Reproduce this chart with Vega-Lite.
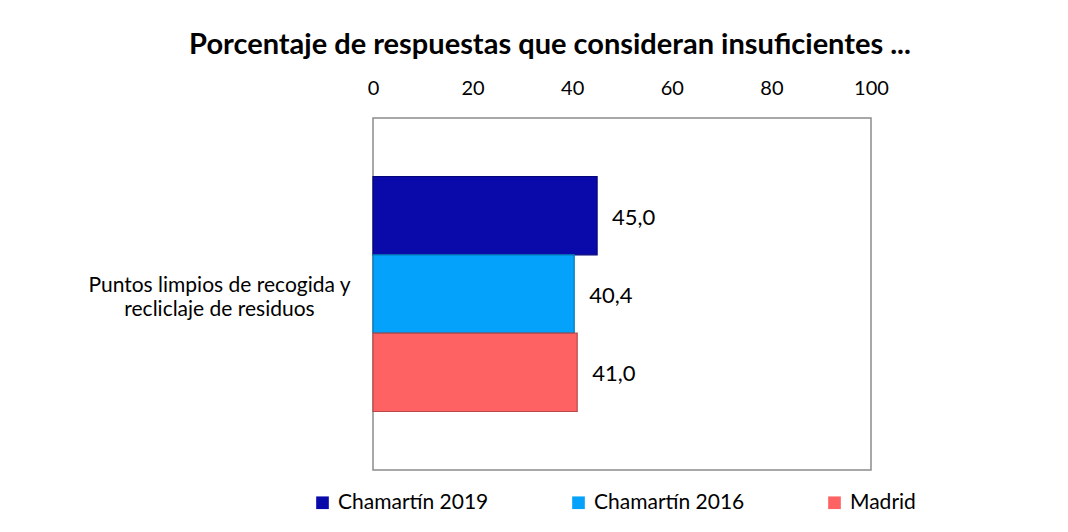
{
  "$schema": "https://vega.github.io/schema/vega-lite/v6.json",
  "width": 498,
  "height": 352,
  "autosize": {"type": "none"},
  "padding": {"left": 373, "top": 118, "right": 197, "bottom": 62},
  "background": "white",
  "title": {
    "text": "Porcentaje de respuestas  que consideran insuficientes ...",
    "font": "Lato",
    "fontSize": 29,
    "fontWeight": "bold",
    "color": "#000000",
    "anchor": "middle",
    "frame": "group",
    "dx": -72,
    "offset": 18
  },
  "data": {
    "values": [
      {"cat": "Puntos limpios de recogida y|recliclaje de residuos", "serie": "Chamartín 2019", "valor": 45.0},
      {"cat": "Puntos limpios de recogida y|recliclaje de residuos", "serie": "Chamartín 2016", "valor": 40.4},
      {"cat": "Puntos limpios de recogida y|recliclaje de residuos", "serie": "Madrid", "valor": 41.0}
    ]
  },
  "encoding": {
    "y": {
      "field": "cat",
      "type": "nominal",
      "title": null,
      "scale": {"paddingInner": 0, "paddingOuter": 0.249},
      "axis": {
        "labelExpr": "split(datum.label, '|')",
        "labelAlign": "center",
        "labelBaseline": "middle",
        "labelPadding": 154,
        "labelOffset": -8,
        "labelLineHeight": 24,
        "labelFont": "Lato",
        "labelFontSize": 21,
        "labelColor": "#000000",
        "labelLimit": 400,
        "ticks": false,
        "tickSize": 0,
        "domain": false,
        "grid": false
      }
    },
    "yOffset": {
      "field": "serie",
      "sort": ["Chamartín 2019", "Chamartín 2016", "Madrid"],
      "scale": {"paddingInner": 0, "paddingOuter": 0}
    },
    "x": {
      "field": "valor",
      "type": "quantitative",
      "title": null,
      "scale": {"domain": [0, 100], "nice": false},
      "axis": {
        "orient": "top",
        "values": [0, 20, 40, 60, 80, 100],
        "grid": false,
        "domain": false,
        "ticks": false,
        "tickSize": 0,
        "labelFont": "Lato",
        "labelFontSize": 20,
        "labelColor": "#000000",
        "labelPadding": 20,
        "labelFlush": false,
        "format": "d"
      }
    }
  },
  "layer": [
    {
      "mark": {"type": "bar", "strokeWidth": 1.2},
      "encoding": {
        "color": {
          "field": "serie",
          "type": "nominal",
          "sort": ["Chamartín 2019", "Chamartín 2016", "Madrid"],
          "scale": {
            "domain": ["Chamartín 2019", "Chamartín 2016", "Madrid"],
            "range": ["#0A0AAA", "#04A2FA", "#FF6262"]
          },
          "legend": {
            "orient": "none",
            "legendX": -61,
            "legendY": 374,
            "direction": "horizontal",
            "columns": 3,
            "gridAlign": "all",
            "columnPadding": 79,
            "title": null,
            "symbolType": "square",
            "symbolSize": 160,
            "symbolStrokeWidth": 0,
            "labelFont": "Lato",
            "labelFontSize": 21,
            "labelColor": "#000000",
            "labelOffset": 5,
            "labelLimit": 300,
            "labelExpr": "datum.label == 'Madrid' ? '\u00a0Madrid' : datum.label"
          }
        },
        "stroke": {
          "field": "serie",
          "type": "nominal",
          "scale": {
            "domain": ["Chamartín 2019", "Chamartín 2016", "Madrid"],
            "range": ["#05057A", "#0379B8", "#B84848"]
          },
          "legend": null
        }
      }
    },
    {
      "mark": {
        "type": "text",
        "align": "left",
        "baseline": "middle",
        "dx": 15,
        "dy": 2,
        "font": "Lato",
        "fontSize": 22,
        "color": "#000000"
      },
      "encoding": {
        "text": {"field": "valor", "type": "quantitative", "format": ".1f"}
      }
    }
  ],
  "config": {
    "locale": {
      "number": {"decimal": ",", "thousands": ".", "grouping": [3], "currency": ["", " €"]}
    },
    "view": {"stroke": "#8C8C8C", "strokeWidth": 1.5}
  }
}
